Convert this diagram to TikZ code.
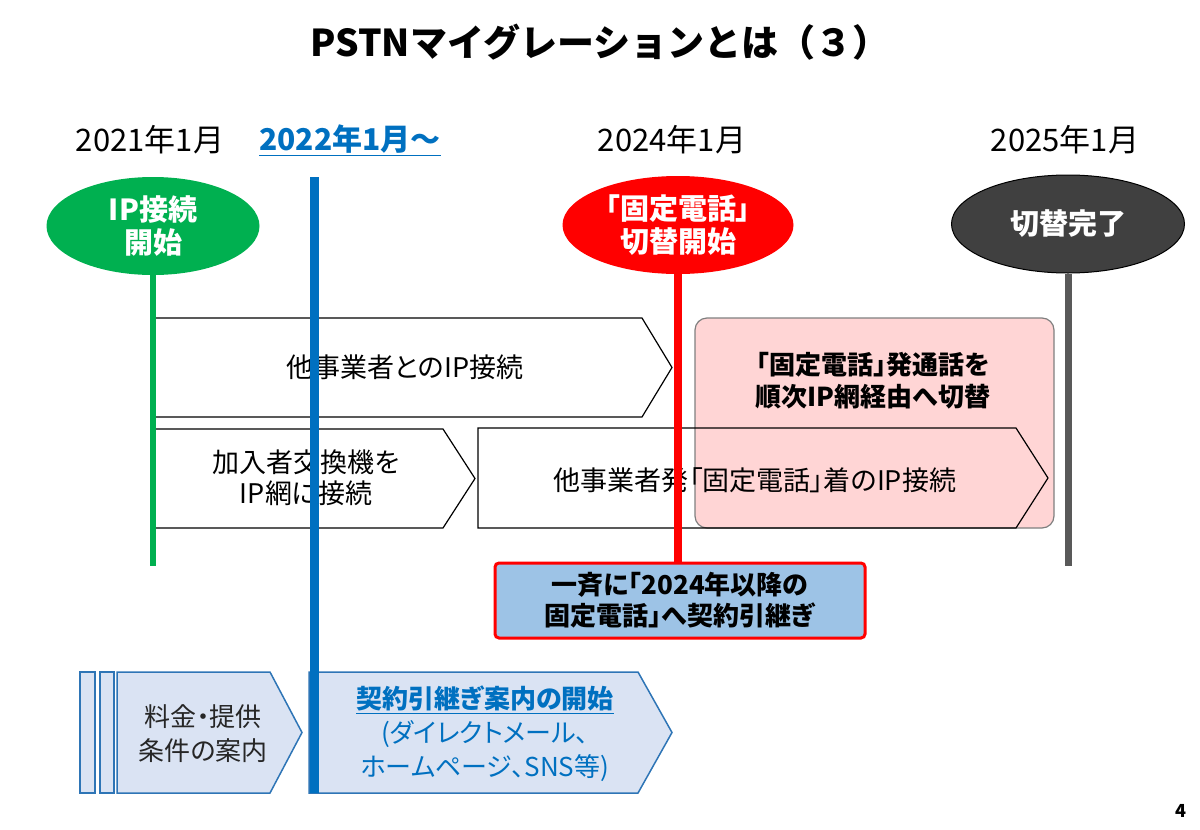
\documentclass[tikz,border=0pt]{standalone}
\usepackage{fontspec}
\setmainfont{Noto Sans CJK JP}[RawFeature=+palt]
\newfontfamily\jpfixed{Noto Sans CJK JP}
\usepackage{xcolor}
\usetikzlibrary{shapes.geometric}
\definecolor{kgreen}{HTML}{00B050}
\definecolor{kblue}{HTML}{0070C0}
\definecolor{kred}{HTML}{FF0000}
\definecolor{kdark}{HTML}{404040}
\definecolor{kgray}{HTML}{595959}
\definecolor{kpink}{HTML}{FFD5D5}
\definecolor{kpinkedge}{HTML}{7F7F7F}
\definecolor{kbox}{HTML}{9DC3E6}
\definecolor{kpale}{HTML}{DAE3F3}
\definecolor{kedge}{HTML}{2E75B6}
\tikzset{
  datelbl/.style={font=\fontsize{31}{34}\selectfont},
  badge/.style={ellipse,inner sep=0pt,minimum height=98pt,text=white,align=center,
    font=\bfseries\fontsize{29}{33}\selectfont},
  chev/.style={draw=black,line width=1.2pt},
  palechev/.style={draw=kedge,fill=kpale,line width=1.5pt},
  rowtxt/.style={align=center,font=\fontsize{27}{31}\selectfont},
  tline/.style={line width=#1}
}
\begin{document}
\begin{tikzpicture}[x=1pt,y=-1pt]
\useasboundingbox (0,0) rectangle (1200,830);
\node[font=\jpfixed\bfseries\fontsize{37}{40}\selectfont] (title) at (600,42) {PSTNマイグレーションとは（３）};
\node[datelbl] (d2021) at (150,140) {2021年1月};
\node[datelbl,text=kblue,font=\bfseries\fontsize{30}{34}\selectfont] (d2022) at (350,140) {\underline{2022年1月～}};
\node[datelbl] (d2024) at (672,140) {2024年1月};
\node[datelbl] (d2025) at (1065,140) {2025年1月};

\draw[draw=kpinkedge,fill=kpink,rounded corners=12pt,line width=1.2pt] (695,318) rectangle (1054,528);
\draw[chev] (155,318)--(642,318)--(672,367.5)--(642,417)--(155,417)--cycle;
\draw[chev] (155,429)--(443,429)--(475,478.5)--(443,528)--(155,528)--cycle;
\draw[chev] (478,428)--(1016,428)--(1048,478)--(1016,528)--(478,528)--cycle;
\node[rowtxt] (peerip) at (405,367) {他事業者とのIP接続};
\node[rowtxt] (switchip) at (306,478) {加入者交換機を\\IP網に接続};
\node[rowtxt] (incoming) at (755,480) {他事業者発「固定電話」着のIP接続};
\node[align=center,font=\bfseries\fontsize{26}{32}\selectfont] (outgoing) at (873,381) {「固定電話」発通話を\\順次IP網経由へ切替};

\draw[palechev] (80,672) rectangle (95,793);
\draw[palechev] (100,672) rectangle (114,793);
\draw[palechev] (117,672)--(270,672)--(302,732.5)--(270,793)--(117,793)--cycle;
\draw[palechev] (309,672)--(638,672)--(672,732.5)--(638,793)--(309,793)--cycle;
\node[align=center,text=black!85,font=\fontsize{26}{34}\selectfont] (fee) at (203,734) {料金・提供\\条件の案内};
\node[align=center,text=kblue,font=\fontsize{26}{34}\selectfont] (guide) at (485,734)
  {\underline{\textbf{契約引継ぎ案内の開始}}\\(ダイレクトメール、\\ホームページ、SNS等)};

\node[badge,fill=kgreen,minimum width=213pt] (ipstart) at (153,226) {IP接続\\開始};
\node[badge,fill=kred,minimum width=231pt] (swstart) at (678,225) {「固定電話」\\切替開始};
\node[badge,fill=kdark,draw=black,line width=1pt,minimum width=233pt] (done) at (1068,224) {切替完了};

\node[draw=kred,line width=3pt,fill=kbox,rounded corners=4pt,minimum width=370pt,minimum height=75pt,
  align=center,font=\bfseries\fontsize{26}{31}\selectfont] (notice) at (680,600.5) {一斉に「2024年以降の\\固定電話」へ契約引継ぎ};

\coordinate (btop) at (314,177);
\coordinate (bbot) at (314,793);
\coordinate (gend) at (153,566);
\coordinate (kend) at (1068,566);
\draw[kgreen,tline=6pt] (ipstart.south) -- (gend);
\draw[kblue,tline=9pt] (btop) -- (bbot);
\draw[kred,tline=8pt] (swstart.south) -- (swstart.south |- notice.north);
\draw[kgray,tline=7pt] (done.south) -- (kend);
\node[font=\bfseries\fontsize{18}{20}\selectfont] (pageno) at (1181,811) {4};
\end{tikzpicture}
\end{document}
